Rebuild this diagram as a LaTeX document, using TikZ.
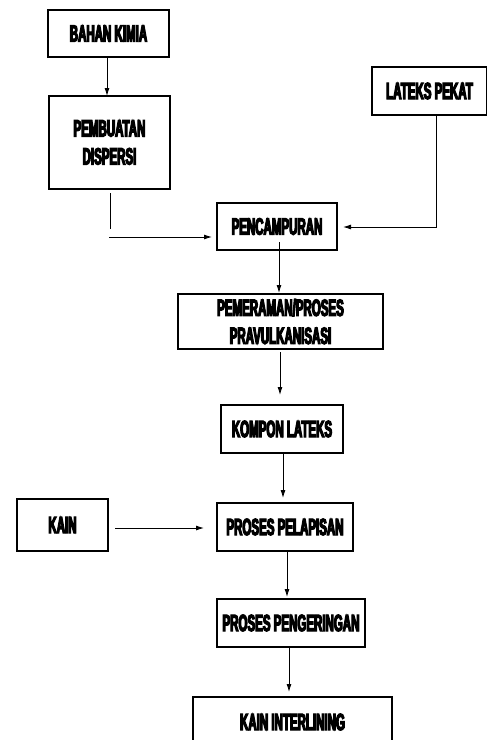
\documentclass[tikz,border=0pt]{standalone}
\usepackage{fontspec}
\newfontfamily\flowfont[FakeStretch=0.49,FakeBold=5]{Liberation Sans Bold}
\usepackage{tikz}
\usetikzlibrary{arrows.meta,positioning,calc}

\begin{document}
\begin{tikzpicture}[
    x=1pt, y=-1pt,
    stepbox/.style={rectangle, draw=black, line width=1.5pt, inner sep=0pt, outer sep=0pt,
        align=center, font=\flowfont\fontsize{23.5}{28}\selectfont},
    arrow/.style={-{Latex[length=8pt,width=5pt]}, line width=0.9pt},
    link/.style={line width=0.9pt}
]
    \useasboundingbox (0,0) rectangle (487,740);

    % Processes
    \node[stepbox, minimum width=121pt, minimum height=47pt] (kimia) at (108.5,33.5) {BAHAN KIMIA};
    \node[stepbox, minimum width=121pt, minimum height=93pt] (dispersi) at (109.5,142.5) {PEMBUATAN\\DISPERSI};
    \node[stepbox, minimum width=115pt, minimum height=48pt] (lateks) at (429.5,91) {LATEKS PEKAT};
    \node[stepbox, minimum width=120pt, minimum height=47pt] (mix) at (277,226.5) {PENCAMPURAN};
    \node[stepbox, minimum width=205pt, minimum height=55pt] (peram) at (280.5,321.5) {PEMERAMAN/PROSES\\PRAVULKANISASI};
    \node[stepbox, minimum width=122pt, minimum height=48pt] (kompon) at (282,429) {KOMPON LATEKS};
    \node[stepbox, minimum width=91pt, minimum height=52pt] (kain) at (62.5,525) {KAIN};
    \node[stepbox, minimum width=136pt, minimum height=48pt] (lapis) at (285,527) {PROSES PELAPISAN};
    \node[stepbox, minimum width=148pt, minimum height=48pt] (kering) at (291,623) {PROSES PENGERINGAN};
    \node[stepbox, minimum width=199pt, minimum height=50pt] (interlining) at (292.5,722) {KAIN INTERLINING};

    % Helper points
    \coordinate (d1) at (110,229);
    \coordinate (d2) at (109,237);
    \coordinate (l1) at (436,227);

    % Flow
    \draw[arrow] (kimia.south -| 107,0) -- (dispersi.north -| 107,0);
    \draw[link] ([yshift=-4pt]dispersi.south -| d1) -- (d1);
    \draw[arrow, shorten >=5pt] (d2) -- (d2 -| mix.west);
    \draw[arrow, shorten >=6pt] (l1 |- lateks.south) -- (l1) -- (l1 -| mix.east);
    \draw[arrow, shorten >=1pt] ([yshift=8pt]mix.south -| 279,0) -- (peram.north -| 279,0);
    \draw[arrow, shorten <=3pt, shorten >=10pt] (peram.south -| 280,0) -- (kompon.north -| 280,0);
    \draw[arrow, shorten >=5pt] (kompon.south -| 283,0) -- (lapis.north -| 283,0);
    \draw[arrow, shorten <=7pt, shorten >=13pt] (kain.east |- 0,528) -- (lapis.west |- 0,528);
    \draw[arrow, shorten >=2pt] (lapis.south -| 287,0) -- (kering.north -| 287,0);
    \draw[arrow, shorten >=5pt] (kering.south -| 289,0) -- (interlining.north -| 289,0);
\end{tikzpicture}
\end{document}
